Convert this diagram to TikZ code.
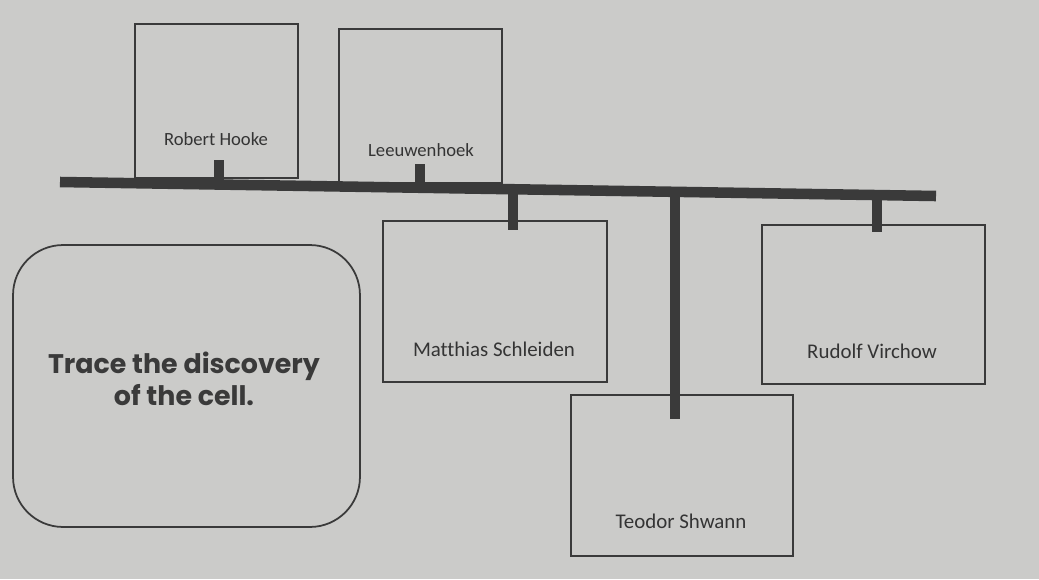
\documentclass[tikz,border=0pt]{standalone}
\usepackage{fontspec}
\newfontfamily\namefont{Carlito}[Ligatures=NoCommon]
\newfontfamily\headfont{Poppins}
\usetikzlibrary{positioning}
\definecolor{paper}{RGB}{203,203,201}
\definecolor{ink}{RGB}{58,58,58}
\tikzset{
	cardbox/.style={draw=ink, line width=1pt, inner sep=0pt},
	namelabel/.style={font=\namefont\fontsize{#1}{14}\selectfont, text=ink!90!black},
	namelabel/.default=11.9,
	bar/.style={draw=ink, line width=6pt},
	stub/.style={draw=ink, line width=5.5pt},
}
\begin{document}
\begin{tikzpicture}[x=0.02cm, y=-0.02cm]
		\fill[paper] (0,0) rectangle (1039,579);
		\node[cardbox, minimum width=3.26cm, minimum height=3.08cm] (hooke) at (216.5,101) {};
		\node[cardbox, minimum width=3.26cm, minimum height=3.08cm] (leeuw) at (420.5,106) {};
		\node[cardbox, minimum width=4.48cm, minimum height=3.22cm] (schleiden) at (495,301.5) {};
		\node[cardbox, minimum width=4.44cm, minimum height=3.22cm] (shwann) at (682,475.5) {};
		\node[cardbox, minimum width=4.46cm, minimum height=3.18cm] (virchow) at (873.5,304.5) {};
		\node[cardbox, rounded corners=1cm, minimum width=6.94cm, minimum height=5.64cm] (task) at (186.5,386) {};
		\node[namelabel=10.6] (hookeTxt) at (216,139) {Robert Hooke};
		\node[namelabel=10.6] (leeuwTxt) at (421,150) {Leeuwenhoek};
		\node[namelabel] (schleidenTxt) at (494,349) {Matthias Schleiden};
		\node[namelabel] (shwannTxt) at (681,521) {Teodor Shwann};
		\node[namelabel] (virchowTxt) at (872,351) {Rudolf Virchow};
		\node[font=\headfont\bfseries\fontsize{15.3}{18}\selectfont, text=ink, align=center] (taskTxt) at (184,379) {Trace the discovery\\of the cell.};
		\coordinate (barL) at (60,182);
		\coordinate (barR) at (936,196);
		\path (barL) -- (barR)
			coordinate[pos=0.1815] (jHooke)
			coordinate[pos=0.411] (jLeeuw)
			coordinate[pos=0.517] (jSchleiden)
			coordinate[pos=0.702] (jShwann)
			coordinate[pos=0.933] (jVirchow);
		\coordinate (tHooke) at (219,160);
		\coordinate (tLeeuw) at (420,164);
		\coordinate (tSchleiden) at (513,230);
		\coordinate (tShwann) at (675,419);
		\coordinate (tVirchow) at (877,232);
		\draw[stub] (jHooke) -- (jHooke |- tHooke);
		\draw[stub] (jLeeuw) -- (jLeeuw |- tLeeuw);
		\draw[stub] (jSchleiden) -- (jSchleiden |- tSchleiden);
		\draw[stub] (jShwann) -- (jShwann |- tShwann);
		\draw[stub] (jVirchow) -- (jVirchow |- tVirchow);
		\draw[bar] (barL) -- (barR);
	\end{tikzpicture}
\end{document}
